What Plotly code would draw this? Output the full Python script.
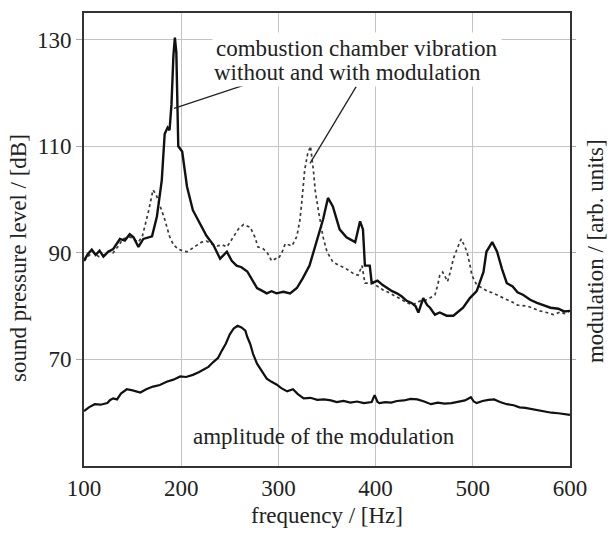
import plotly.graph_objects as go

# ---- data ----
freq_a = [100, 104, 108, 112, 116, 120, 125, 130, 134, 137, 142, 147, 151, 156, 161, 166, 170, 175, 180, 183,
          186, 188, 190, 192, 193.5, 195, 196, 197, 201, 206, 212, 219, 226, 233, 240, 247, 252, 257, 262, 268,
          273, 278, 283, 288, 293, 298, 305, 312, 319, 325, 332, 340, 346, 351, 356, 363, 370, 379, 384, 387,
          389, 394, 396, 402, 407, 412, 417, 422, 427, 432, 437, 441, 444, 449, 453, 456, 461, 466, 473, 480,
          485, 490, 497, 504, 511, 514, 520, 525, 530, 535, 541, 546, 552, 559, 566, 573, 580, 588, 594, 600]
spl_without = [88.5, 89.8, 90.6, 89.6, 90.4, 89.3, 90.2, 90.7, 91.8, 92.6, 92.3, 93.5, 92.9, 91.1, 92.6, 92.9, 93.1,
               96.8, 103.6, 112.3, 113.5, 113.0, 117.8, 127.0, 130.4, 127.6, 120.0, 110.0, 109.0, 102.4, 98.0,
               95.7, 93.2, 91.5, 88.9, 90.2, 88.5, 87.6, 87.3, 86.5, 85.0, 83.4, 82.9, 82.4, 82.8, 82.4, 82.7,
               82.4, 83.4, 85.2, 87.6, 92.6, 96.3, 100.3, 98.7, 94.4, 92.9, 92.0, 95.9, 94.4, 87.6, 87.6, 84.3,
               84.8, 84.0, 83.4, 82.8, 82.4, 81.8, 81.0, 80.6, 80.0, 78.8, 81.5, 80.2, 79.7, 78.4, 78.8, 78.2,
               78.2, 79.0, 79.7, 81.5, 82.8, 86.4, 90.2, 92.0, 90.2, 87.0, 84.3, 83.7, 82.6, 82.1, 81.2, 80.6,
               80.2, 79.7, 79.5, 79.0, 79.1]

freq_b = [100, 105, 109, 115, 120, 125, 130, 135, 140, 147, 152, 156, 160, 166, 171, 174, 176, 180, 183, 188,
          192, 197, 201, 206, 211, 216, 221, 226, 232, 237, 242, 247, 253, 259, 264, 271, 276, 279, 284, 288,
          293, 297, 300, 304, 307, 314, 319, 322, 324, 327, 330, 333, 336, 338, 341, 344, 346, 350, 356, 363,
          368, 374, 378, 382, 386, 389, 397, 403, 408, 413, 418, 423, 428, 433, 438, 446, 453, 457, 461, 464,
          466, 469, 472, 474, 477, 480, 484, 488, 491, 494, 497, 499, 504, 509, 515, 520, 525, 530, 535, 540,
          546, 551, 556, 562, 569, 576, 583, 590, 594, 600]
spl_with = [88.5, 89.5, 90.2, 89.3, 89.5, 90.3, 90.0, 91.2, 92.6, 93.0, 92.5, 92.0, 93.1, 97.5, 101.8, 101.0,
            100.0, 98.0, 96.3, 93.1, 91.5, 90.7, 90.4, 90.2, 90.8, 91.3, 92.0, 92.2, 91.6, 91.3, 91.5, 91.1,
            92.9, 94.5, 95.3, 94.8, 92.9, 91.1, 90.8, 90.2, 88.5, 88.9, 88.9, 90.2, 91.7, 91.3, 93.1, 96.0,
            99.4, 105.5, 108.5, 110.0, 105.5, 101.5, 98.1, 94.8, 92.9, 90.2, 88.3, 87.6, 87.2, 86.5, 86.0,
            85.8, 87.6, 84.3, 84.3, 83.6, 83.0, 82.6, 82.1, 81.6, 81.0, 80.6, 80.2, 81.0, 81.2, 81.6, 82.1,
            84.0, 85.8, 86.4, 85.2, 84.6, 86.5, 88.9, 90.8, 92.6, 91.5, 90.2, 87.8, 85.8, 84.0, 83.4, 82.8,
            82.5, 82.1, 81.7, 81.2, 80.8, 80.2, 80.1, 80.0, 79.6, 79.1, 78.8, 78.4, 78.9, 78.6, 79.1]

freq_m = [100, 105, 111, 117, 124, 127, 130, 134, 138, 144, 150, 158, 164, 171, 178, 185, 192, 199, 205, 212,
          218, 223, 228, 233, 238, 242, 246, 250, 254, 258, 262, 266, 268, 271, 274, 278, 283, 288, 293, 298,
          303, 309, 315, 320, 326, 333, 340, 347, 354, 360, 367, 374, 381, 388, 396, 399, 402, 404, 410, 416,
          422, 429, 436, 443, 450, 457, 464, 471, 478, 485, 492, 498, 501, 504, 510, 516, 522, 528, 535, 542,
          548, 554, 560, 567, 574, 581, 588, 594, 600]
modulation = [60.3, 61.0, 61.6, 61.5, 61.8, 62.4, 62.7, 62.5, 63.6, 64.4, 64.2, 63.8, 64.4, 64.9, 65.2, 65.8,
              66.2, 66.8, 66.7, 67.1, 67.6, 68.1, 68.6, 69.5, 70.3, 71.7, 73.0, 74.7, 75.8, 76.3, 76.0, 75.4,
              74.2, 72.9, 71.0, 69.2, 67.7, 66.4, 65.8, 65.3, 64.6, 64.0, 64.4, 63.5, 62.7, 62.8, 62.4, 62.5,
              62.3, 62.0, 62.2, 61.9, 62.1, 61.8, 62.0, 63.3, 62.0, 61.8, 62.0, 61.9, 62.2, 62.3, 62.6, 62.5,
              62.1, 61.6, 61.9, 61.7, 61.8, 62.0, 62.3, 62.9, 62.1, 61.8, 62.2, 62.4, 62.5, 62.0, 61.6, 61.4,
              61.0, 60.9, 60.7, 60.4, 60.2, 60.0, 59.9, 59.7, 59.6]

x_ticks = [100, 200, 300, 400, 500, 600]
y_ticks = [70, 90, 110, 130]

label_top = ["combustion chamber vibration", "without and with modulation"]
label_bottom = "amplitude of the modulation"
y_title_left = "sound pressure level / [dB]"
y_title_right = "modulation / [arb. units]"
# leader lines: (tail x, tail y, tip x, tip y)
leaders = [(265.6, 121.5, 192.6, 117.1), (380.0, 121.2, 332.5, 106.8)]

FONT = "Liberation Serif"
FS = 23
TXT = "#222222"

fig = go.Figure()
fig.add_trace(go.Scatter(x=freq_b, y=spl_with, mode="lines",
                         line=dict(color="#3a3a3a", width=1.7, dash="dot"), showlegend=False))
fig.add_trace(go.Scatter(x=freq_a, y=spl_without, mode="lines",
                         line=dict(color="#111111", width=2.4), showlegend=False))
fig.add_trace(go.Scatter(x=freq_m, y=modulation, mode="lines", yaxis="y2",
                         line=dict(color="#111111", width=2.2), showlegend=False))

for (tx, ty, hx, hy) in leaders:
    fig.add_shape(type="line", xref="x", yref="y", x0=tx, y0=ty, x1=hx, y1=hy,
                  line=dict(color="#222222", width=1.3))

fig.add_annotation(x=232, y=128.4, xref="x", yref="y", text=label_top[0], showarrow=False,
                   xanchor="left", yanchor="middle", bgcolor="white", borderpad=3,
                   font=dict(family=FONT, size=FS, color=TXT))
fig.add_annotation(x=232, y=123.9, xref="x", yref="y", text=label_top[1], showarrow=False,
                   xanchor="left", yanchor="middle", bgcolor="white", borderpad=1,
                   font=dict(family=FONT, size=FS, color=TXT))
fig.add_annotation(x=347, y=55.6, xref="x", yref="y", text=label_bottom, showarrow=False,
                   xanchor="center", yanchor="middle",
                   font=dict(family=FONT, size=FS, color=TXT))

# axis titles as rotated annotations (placed like the reference)
fig.add_annotation(x=-0.136, y=0.459, xref="paper", yref="paper", text=y_title_left, showarrow=False,
                   textangle=-90, xanchor="center", yanchor="middle",
                   font=dict(family=FONT, size=FS, color=TXT))
fig.add_annotation(x=1.053, y=0.474, xref="paper", yref="paper", text=y_title_right, showarrow=False,
                   textangle=-90, xanchor="center", yanchor="middle",
                   font=dict(family=FONT, size=FS, color=TXT))

axis_common = dict(showline=True, linecolor="#333333", linewidth=2,
                   tickfont=dict(family=FONT, size=FS, color=TXT))

fig.update_layout(
    width=608, height=535,
    margin=dict(l=84, r=38, t=11, b=64),
    paper_bgcolor="white", plot_bgcolor="white",
    font=dict(family=FONT, size=FS, color=TXT),
    hovermode=False,
    xaxis=dict(range=[100, 600], tickvals=x_ticks, showgrid=True, gridcolor="#c4c4c4", gridwidth=1,
               mirror=True, ticks="", zeroline=False,
               title=dict(text="frequency / [Hz]", font=dict(family=FONT, size=FS), standoff=7),
               **axis_common),
    yaxis=dict(range=[50, 135], tickvals=y_ticks, showgrid=True, gridcolor="#c4c4c4", gridwidth=1,
               mirror=True, ticks="outside", ticklen=6, tickcolor="#aaaaaa", zeroline=False,
               **axis_common),
    yaxis2=dict(range=[50, 135], overlaying="y", side="right", tickvals=y_ticks, showgrid=False,
                ticks="outside", ticklen=4, tickcolor="#aaaaaa", showticklabels=False, zeroline=False,
                showline=True, linecolor="#333333", linewidth=2),
)

# remove the browser's default 8px page margin so the 608x535 figure fills the window
fig.write_html("out.html", config={"displayModeBar": False},
               post_script="document.body.style.margin='0';document.body.style.overflow='hidden';")
